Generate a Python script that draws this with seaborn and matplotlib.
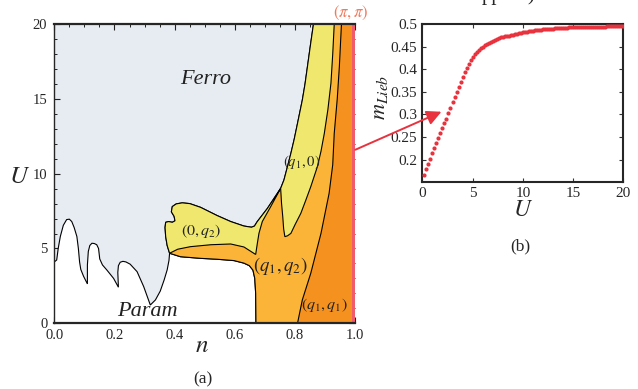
import numpy as np
import pandas as pd
import matplotlib
matplotlib.use("Agg")
import matplotlib.pyplot as plt
from matplotlib.patches import ConnectionPatch
from matplotlib.ticker import MultipleLocator
import seaborn as sns

# ---------------- data ----------------
# Param / Ferro wavy boundary (n, U)
wavy_n = [0.0, 0.008, 0.013, 0.020, 0.030, 0.041, 0.050, 0.058, 0.066, 0.075, 0.080, 0.084, 0.088, 0.097, 0.110,
          0.110, 0.113, 0.118, 0.125, 0.133, 0.141, 0.147, 0.151, 0.160, 0.175, 0.197, 0.213,
          0.211, 0.213, 0.219, 0.228, 0.238, 0.252, 0.275, 0.297, 0.319,
          0.336, 0.352, 0.365, 0.375, 0.381, 0.383]
wavy_U = [4.10, 4.23, 5.00, 5.80, 6.55, 6.93, 6.96, 6.80, 6.40, 5.80, 5.00, 4.10, 3.60, 3.15, 2.63,
          3.90, 4.80, 5.20, 5.35, 5.33, 5.25, 5.00, 4.30, 3.90, 3.55, 3.00, 2.41,
          3.40, 3.85, 4.08, 4.14, 4.10, 3.95, 3.45, 2.45, 1.22,
          1.56, 2.15, 2.90, 3.57, 4.20, 4.68]

# Lower (Param) boundary of the (q1,q2) strip
pbot_n = [0.383, 0.419, 0.486, 0.541, 0.597, 0.630, 0.648, 0.660, 0.666, 0.669, 0.670]
pbot_U = [4.68, 4.45, 4.34, 4.28, 4.19, 4.02, 3.85, 3.55, 3.00, 2.00, 0.00]

# (0,q2) / (q1,q2) boundary
strip_n = [0.383, 0.410, 0.452, 0.520, 0.586, 0.630, 0.669, 0.675, 0.680, 0.691, 0.719, 0.752]
strip_U = [4.68, 4.95, 5.12, 5.25, 5.30, 5.10, 4.60, 5.40, 6.02, 6.80, 7.80, 9.02]

# (0,q2) / Ferro boundary
y02_n = [0.383, 0.375, 0.370, 0.368, 0.370, 0.380, 0.392, 0.401, 0.398, 0.389, 0.392, 0.405, 0.425,
         0.450, 0.486, 0.541, 0.586, 0.630, 0.655, 0.665, 0.674, 0.708, 0.730, 0.752]
y02_U = [4.68, 5.20, 5.80, 6.40, 6.75, 6.80, 6.75, 6.85, 7.15, 7.45, 7.80, 7.98, 8.05,
         8.00, 7.75, 7.20, 6.80, 6.50, 6.42, 6.50, 6.79, 7.68, 8.35, 9.02]

# (q1,0) / Ferro boundary
q10L_n = [0.752, 0.763, 0.775, 0.786, 0.797, 0.808, 0.824, 0.833, 0.841, 0.851, 0.861]
q10L_U = [9.02, 9.58, 10.50, 11.36, 12.30, 13.36, 14.92, 16.00, 17.15, 18.60, 20.00]

# (q1,0) / (q1,q2) boundary (top -> bottom -> back to cusp)
q10R_n = [0.930, 0.925, 0.919, 0.909, 0.897, 0.886, 0.874, 0.852, 0.835, 0.819, 0.800, 0.786,
          0.775, 0.766, 0.762, 0.759, 0.755, 0.752]
q10R_U = [20.00, 18.00, 16.04, 14.30, 12.69, 11.50, 10.47, 9.13, 8.20, 7.35, 6.60, 6.01,
          5.85, 5.79, 6.30, 7.13, 8.00, 9.02]

# (q1,q2) / (q1,q1) boundary
q11_n = [0.808, 0.824, 0.852, 0.886, 0.913, 0.925, 0.930, 0.940, 0.947, 0.954]
q11_U = [0.00, 1.56, 3.34, 6.01, 8.69, 10.60, 12.69, 15.00, 17.15, 20.00]

# (pi,pi) line position
pipi_n = [0.990, 1.000]

# Inset: m_Lieb versus U
U_vals = [0.2, 0.4, 0.6, 0.8, 1.0, 1.2, 1.4, 1.6, 1.8, 2.0,
          2.2, 2.4, 2.6, 2.8, 3.0, 3.2, 3.4, 3.6, 3.8, 4.0,
          4.2, 4.4, 4.6, 4.8, 5.0, 5.2, 5.4, 5.6, 5.8, 6.0,
          6.2, 6.4, 6.6, 6.8, 7.0, 7.2, 7.4, 7.6, 7.8, 8.0,
          8.2, 8.4, 8.6, 8.8, 9.0, 9.2, 9.4, 9.6, 9.8, 10.0,
          10.2, 10.4, 10.6, 10.8, 11.0, 11.2, 11.4, 11.6, 11.8, 12.0,
          12.2, 12.4, 12.6, 12.8, 13.0, 13.2, 13.4, 13.6, 13.8, 14.0,
          14.2, 14.4, 14.6, 14.8, 15.0, 15.2, 15.4, 15.6, 15.8, 16.0,
          16.2, 16.4, 16.6, 16.8, 17.0, 17.2, 17.4, 17.6, 17.8, 18.0,
          18.2, 18.4, 18.6, 18.8, 19.0, 19.2, 19.4, 19.6, 19.8, 20.0]
m_vals = [0.166, 0.178, 0.190, 0.202, 0.214, 0.225, 0.236, 0.247, 0.258, 0.269,
          0.280, 0.291, 0.303, 0.315, 0.327, 0.338, 0.350, 0.361, 0.372, 0.384,
          0.394, 0.404, 0.413, 0.421, 0.428, 0.434, 0.439, 0.443, 0.447, 0.450,
          0.453, 0.456, 0.459, 0.461, 0.463, 0.465, 0.467, 0.469, 0.471, 0.472,
          0.473, 0.474, 0.475, 0.476, 0.477, 0.478, 0.479, 0.480, 0.481, 0.482,
          0.483, 0.484, 0.485, 0.486, 0.486, 0.487, 0.487, 0.488, 0.488, 0.489,
          0.489, 0.489, 0.490, 0.490, 0.490, 0.491, 0.491, 0.491, 0.492, 0.492,
          0.492, 0.492, 0.493, 0.493, 0.493, 0.493, 0.493, 0.494, 0.494, 0.494,
          0.494, 0.494, 0.494, 0.495, 0.495, 0.495, 0.495, 0.495, 0.495, 0.495,
          0.495, 0.496, 0.496, 0.496, 0.496, 0.496, 0.496, 0.496, 0.496, 0.496]

x_ticks = [0.0, 0.2, 0.4, 0.6, 0.8, 1.0]
x_ticklabels = ["0.0", "0.2", "0.4", "0.6", "0.8", "1.0"]
y_ticks = [0, 5, 10, 15, 20]
inset_xticks = [0, 5, 10, 15, 20]
inset_yticks = [0.2, 0.25, 0.3, 0.35, 0.4, 0.45, 0.5]
inset_yticklabels = ["0.2", "0.25", "0.3", "0.35", "0.4", "0.45", "0.5"]

# ---------------- style ----------------
sns.set_theme(style="ticks")
plt.rcParams["font.family"] = ["Liberation Serif", "DejaVu Serif"]
plt.rcParams["mathtext.fontset"] = "stix"
plt.rcParams["xtick.direction"] = "in"
plt.rcParams["ytick.direction"] = "in"

C_FERRO = "#E7EBF2"
C_YEL = "#F0E86E"
C_ORA = "#FBB438"
C_DOR = "#F5921F"
C_RED = "#F05C6C"
C_ARROW = "#E8323E"

fig = plt.figure(figsize=(6.38, 3.89), dpi=100)
ax = fig.add_axes([0.0851, 0.169, 0.4718, 0.769])
ax2 = fig.add_axes([0.662, 0.532, 0.315, 0.4055])

# ---------------- main phase diagram ----------------
ax.set_facecolor(C_FERRO)
edge = dict(edgecolor="black", linewidth=0.8)

# Param (white)
par_n = [0.0] + wavy_n + pbot_n[1:]
par_U = [0.0] + wavy_U + pbot_U[1:]
ax.fill(par_n, par_U, facecolor="white", zorder=1, **edge)

# (q1,q2) light orange
ora_n = pbot_n + [1.0, 1.0] + q10L_n[::-1] + y02_n[::-1]
ora_U = pbot_U + [0.0, 20.0] + q10L_U[::-1] + y02_U[::-1]
ax.fill(ora_n, ora_U, facecolor=C_ORA, zorder=2, **edge)

# (0,q2) yellow
yA_n = y02_n + strip_n[::-1]
yA_U = y02_U + strip_U[::-1]
ax.fill(yA_n, yA_U, facecolor=C_YEL, zorder=3, **edge)

# (q1,0) yellow
yB_n = q10L_n + q10R_n
yB_U = q10L_U + q10R_U
ax.fill(yB_n, yB_U, facecolor=C_YEL, zorder=3, **edge)

# (q1,q1) dark orange
dor_n = q11_n + [1.0, 1.0]
dor_U = q11_U + [20.0, 0.0]
ax.fill(dor_n, dor_U, facecolor=C_DOR, zorder=4, **edge)

# (pi,pi) line
ax.axvspan(pipi_n[0], pipi_n[1], color=C_RED, zorder=5, lw=0)

ax.set_xlim(0, 1)
ax.set_ylim(0, 20)
ax.set_xticks(x_ticks)
ax.set_xticklabels(x_ticklabels)
ax.set_yticks(y_ticks)
ax.xaxis.set_minor_locator(MultipleLocator(0.05))
ax.yaxis.set_minor_locator(MultipleLocator(1))
ax.tick_params(which="both", top=True, right=True, direction="in", labelsize=10.5,
               color="#222222")
ax.tick_params(axis="x", pad=4)
ax.tick_params(axis="y", pad=5)
ax.tick_params(which="major", length=4.5, width=0.8)
ax.tick_params(which="minor", length=2.5, width=0.7)
for s in ["top", "bottom"]:
    ax.spines[s].set_linewidth(1.6)
ax.spines["left"].set_linewidth(1.0)
ax.spines["right"].set_visible(False)
for sp in ax.spines.values():
    sp.set_zorder(6)

txt = dict(family=["Liberation Serif", "DejaVu Serif"], color="#222222", zorder=7)
ax.text(0.502, 16.3, "Ferro", fontsize=16, style="italic", ha="center", va="center", **txt)
ax.text(0.308, 0.78, "Param", fontsize=16, style="italic", ha="center", va="center", **txt)
ax.text(0.488, 6.2, r"$(0,q_2)$", fontsize=11.5, ha="center", va="center", **txt)
ax.text(0.823, 10.8, r"$(q_1,0)$", fontsize=10.5, ha="center", va="center", **txt)
ax.text(0.752, 3.8, r"$(q_1,q_2)$", fontsize=13.5, ha="center", va="center", **txt)
ax.text(0.898, 1.2, r"$(q_1,q_1)$", fontsize=11.5, ha="center", va="center", **txt)
ax.text(0.985, 20.75, r"$(\pi,\pi)$", fontsize=12, ha="center", va="center",
        color="#F07A5E", clip_on=False)

fig.text(20 / 638, 1 - 177 / 389, r"$U$", fontsize=18, ha="center", va="center")
fig.text(202 / 638, 1 - 346 / 389, r"$n$", fontsize=18, ha="center", va="center")
fig.text(203 / 638, 1 - 379 / 389, "(a)", fontsize=12.5, ha="center", va="center")

# ---------------- inset ----------------
df = pd.DataFrame({"U": U_vals, "m": m_vals})
sns.scatterplot(data=df, x="U", y="m", ax=ax2, color=C_ARROW, s=9, linewidth=0,
                legend=False, zorder=3)
ax2.set_xlim(0, 20)
ax2.set_ylim(0.15, 0.5)
ax2.set_xticks(inset_xticks)
ax2.set_yticks(inset_yticks)
ax2.set_yticklabels(inset_yticklabels)
ax2.set_xlabel("")
ax2.set_ylabel("")
ax2.tick_params(which="both", top=True, right=True, direction="in", labelsize=11,
                length=3, width=0.8, color="#333333")
for sp in ax2.spines.values():
    sp.set_linewidth(1.5)
fig.text(523 / 638, 1 - 211 / 389, r"$U$", fontsize=17, ha="center", va="center")
fig.text(381 / 638, 1 - 97 / 389, r"$m_{Lieb}$", fontsize=16, rotation=90,
         ha="center", va="center")
fig.text(520 / 638, 1 - 246 / 389, "(b)", fontsize=12.5, ha="center", va="center")

# clipped caption fragment at the very top
fig.text(482 / 638, 1.0, "pp", fontsize=15, ha="left", va="baseline")
fig.text(527 / 638, 1.0, ")", fontsize=15, ha="left", va="baseline")

# arrow from (pi,pi) line to inset
con = ConnectionPatch(xyA=(1.0, 11.6), coordsA=ax.transData,
                      xyB=(1.9, 0.306), coordsB=ax2.transData,
                      arrowstyle="-|>", mutation_scale=22, color=C_ARROW, lw=1.4,
                      shrinkA=0, shrinkB=0, zorder=10)
fig.add_artist(con)

fig.savefig("out.png", dpi=100)
